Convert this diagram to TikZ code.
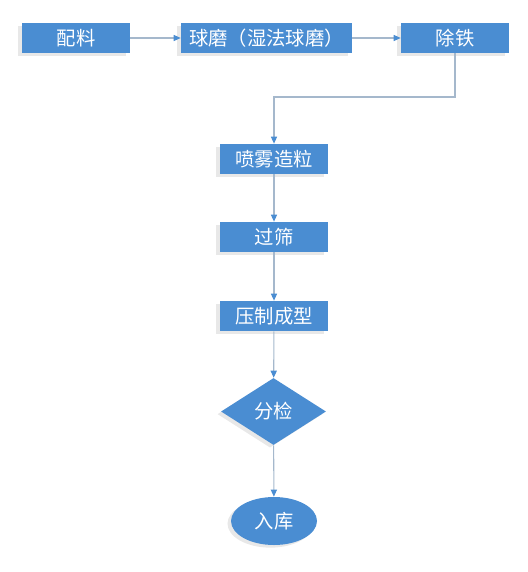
\documentclass[tikz,border=0pt]{standalone}
\usepackage{fontspec}
\newfontfamily\cjk{Noto Sans CJK SC}
\usetikzlibrary{arrows.meta,shapes.geometric,shadows}
\definecolor{boxblue}{RGB}{74,141,210}
\definecolor{linegray}{RGB}{165,184,204}
\tikzset{
    stepbox/.style={rectangle,fill=boxblue,text=white,minimum width=2.16cm,minimum height=0.6cm,inner sep=0pt,font=\cjk\fontsize{11}{13}\selectfont,
        drop shadow={shadow xshift=-2pt,shadow yshift=-1.5pt,fill=black!30,opacity=0.3}},
    flow/.style={linegray,semithick,-{Triangle[length=4pt,width=3.5pt,color=boxblue]}}
}
\begin{document}
\begin{tikzpicture}
        \useasboundingbox (0, 0) rectangle (10.54, -11.44);
        \node [stepbox] (peiliao) at (1.52, -0.76) {配料};
        \node [stepbox,minimum width=3.42cm] (qiumo) at (5.33, -0.76) {球磨（湿法球磨）};
        \node [stepbox] (chutie) at (9.10, -0.76) {除铁};
        \node [stepbox] (penwu) at (5.48, -3.18) {喷雾造粒};
        \node [stepbox] (guoshai) at (5.48, -4.74) {过筛};
        \node [stepbox] (yazhi) at (5.48, -6.32) {压制成型};
        \node [stepbox,diamond,minimum width=2.1cm,minimum height=1.34cm] (fenjian) at (5.47, -8.23) {分检};
        \node [stepbox,ellipse,minimum width=1.72cm,minimum height=0.96cm] (ruku) at (5.48, -10.42) {入库};
        \coordinate (bend) at (9.10, -1.94);
        \draw [flow] (peiliao) -- (qiumo);
        \draw [flow] (qiumo) -- (chutie);
        \draw [flow] (chutie) -- (bend) -| (penwu);
        \draw [flow] (penwu) -- (guoshai);
        \draw [flow] (guoshai) -- (yazhi);
        \draw [flow] (yazhi) -- (fenjian);
        \draw [flow] (fenjian) -- (ruku);
    \end{tikzpicture}
\end{document}
